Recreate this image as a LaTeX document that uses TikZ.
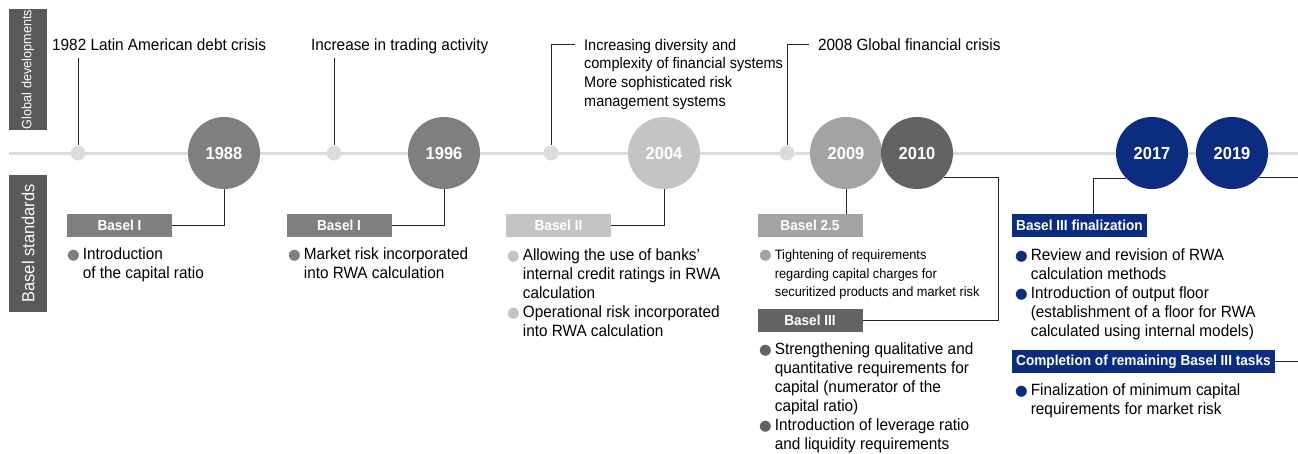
\documentclass[tikz,border=0pt]{standalone}
\usepackage{fontspec}
\setmainfont{Liberation Sans}[FakeStretch=0.94]
\newfontfamily\symfont{DejaVu Sans}

\definecolor{gA}{HTML}{7F7F7F}       % Basel I
\definecolor{gB}{HTML}{C4C4C4}       % Basel II
\definecolor{gC}{HTML}{A3A3A3}       % Basel 2.5
\definecolor{gD}{HTML}{636363}       % Basel III
\definecolor{navy}{HTML}{0C2C80}     % finalization
\definecolor{sidegray}{HTML}{595959}
\definecolor{linegray}{HTML}{DCDCDC}

\newcommand\bul[1]{\textcolor{#1}{\symfont\fontsize{14.5}{14.5}\selectfont ●}}

\tikzset{
  yearball/.style={circle, minimum size=72pt, inner sep=0pt, text=white,
    font=\fontsize{17.5}{17.5}\selectfont\bfseries},
  evdot/.style={circle, fill=linegray, minimum size=15pt, inner sep=0pt},
  stdbox/.style={fill=#1, text=white, minimum width=105pt, minimum height=23pt,
    inner sep=0pt, font=\fontsize{14.5}{14.5}\selectfont\bfseries},
  finbox/.style={fill=navy, text=white, minimum height=23pt, inner xsep=4pt,
    inner ysep=0pt, anchor=west, font=\fontsize{14.5}{14.5}\selectfont\bfseries},
  sidebox/.style={fill=sidegray, text=white, rotate=90, inner sep=0pt},
  evtext/.style={anchor=base west, inner sep=0pt, font=\fontsize{16.3}{19}\selectfont},
  conn/.style={draw=black!85, line width=0.9pt}
}

\begin{document}
\begin{tikzpicture}[x=1pt, y=-1pt]
  \useasboundingbox (0,0) rectangle (1298,453);
  \coordinate (rim) at (1298,0);

  % side captions
  \node[sidebox, minimum width=121pt, minimum height=38pt,
    font=\fontsize{13.5}{13.5}\selectfont] (sideG) at (28,69.5) {Global developments};
  \node[sidebox, minimum width=137pt, minimum height=38pt,
    font=\fontsize{17.5}{17.5}\selectfont] (sideB) at (28,243.5) {Basel standards};

  % time line
  \draw[linegray, line width=3pt] (9,153) -- (1298,153);

  % events on the line
  \foreach \n/\x in {1/78, 2/334, 3/551, 4/787}
    \node[evdot] (ev\n) at (\x,153) {};

  % years
  \foreach \yr/\x/\col in {1988/224/gA, 1996/444/gA, 2004/664/gB, 2009/846/gC,
                           2010/917/gD, 2017/1152/navy, 2019/1232/navy}
    \node[yearball, fill=\col] (y\yr) at (\x,153) {\yr};

  % global developments
  \node[evtext] (g1) at (52,50)
    {\begin{tabular}[t]{@{}l@{}}1982 Latin American debt crisis\end{tabular}};
  \node[evtext] (g2) at (311,50)
    {\begin{tabular}[t]{@{}l@{}}Increase in trading activity\end{tabular}};
  \node[evtext, font=\fontsize{15.4}{18.8}\selectfont] (g3) at (584,50)
    {\begin{tabular}[t]{@{}l@{}}Increasing diversity and\\
      complexity of financial systems\\ More sophisticated risk\\
      management systems\end{tabular}};
  \node[evtext] (g4) at (818,50)
    {\begin{tabular}[t]{@{}l@{}}2008 Global financial crisis\end{tabular}};

  \draw[conn, shorten >=2pt] (ev1.north) -- (ev1.north |- g1.south);
  \draw[conn, shorten >=2pt] (ev2.north) -- (ev2.north |- g2.south);
  \draw[conn] (ev3.north) |- ([xshift=-9pt, yshift=5.5pt]g3.base west);
  \draw[conn] (ev4.north) |- ([xshift=-9pt, yshift=5.5pt]g4.base west);

  % Basel standards
  \node[stdbox=gA] (b1988) at (119.5,225.5) {Basel I};
  \node[stdbox=gA] (b1996) at (339,225.5) {Basel I};
  \node[stdbox=gB] (b2004) at (558.5,225.5) {Basel II};
  \node[stdbox=gC] (b2009) at (810,225.5) {Basel 2.5};
  \node[stdbox=gD] (b2010) at (810,320.5) {Basel III};
  \node[finbox] (b2017) at (1012,225.5) {Basel III finalization};
  \node[finbox] (b2019) at (1012,361.5) {Completion of remaining Basel III tasks};

  \draw[conn] (y1988.south) |- (b1988.east);
  \draw[conn] (y1996.south) |- (b1996.east);
  \draw[conn] (y2004.south) |- (b2004.east);
  \draw[conn] (y2009.south) -- (y2009.south |- b2009.north);
  \draw[conn] (y2010.-42) -| ([xshift=136pt]b2010.east) -- (b2010.east);
  \draw[conn] (y2017.224) -| ([xshift=14pt]b2017.north);
  \draw[conn] (y2019.-42) -- (y2019.-42 -| rim);
  \draw[conn] (b2019.east) -- (b2019.east -| rim);

  % items
  \node[evtext] (i1988) at (67,259)
    {\begin{tabular}[t]{@{}c@{\hspace{3pt}}l@{}}
      \bul{gA} & Introduction\\ & of the capital ratio\end{tabular}};
  \node[evtext] (i1996) at (288,259)
    {\begin{tabular}[t]{@{}c@{\hspace{3pt}}l@{}}
      \bul{gA} & Market risk incorporated\\ & into RWA calculation\end{tabular}};
  \node[evtext] (i2004) at (507,260)
    {\begin{tabular}[t]{@{}c@{\hspace{3pt}}l@{}}
      \bul{gB} & Allowing the use of banks’\\ & internal credit ratings in RWA\\
      & calculation\\
      \bul{gB} & Operational risk incorporated\\ & into RWA calculation\end{tabular}};
  \node[evtext, font=\fontsize{13.6}{18.5}\selectfont] (i2009) at (759,259.5)
    {\begin{tabular}[t]{@{}c@{\hspace{3pt}}l@{}}
      \bul{gC} & Tightening of requirements\\ & regarding capital charges for\\
      & securitized products and market risk\end{tabular}};
  \node[evtext] (i2010) at (759,354)
    {\begin{tabular}[t]{@{}c@{\hspace{3pt}}l@{}}
      \bul{gD} & Strengthening qualitative and\\ & quantitative requirements for\\
      & capital (numerator of the\\ & capital ratio)\\
      \bul{gD} & Introduction of leverage ratio\\ & and liquidity requirements\end{tabular}};
  \node[evtext] (i2017) at (1015,260)
    {\begin{tabular}[t]{@{}c@{\hspace{3pt}}l@{}}
      \bul{navy} & Review and revision of RWA\\ & calculation methods\\
      \bul{navy} & Introduction of output floor\\
      & (establishment of a floor for RWA\\
      & calculated using internal models)\end{tabular}};
  \node[evtext] (i2019) at (1015,395)
    {\begin{tabular}[t]{@{}c@{\hspace{3pt}}l@{}}
      \bul{navy} & Finalization of minimum capital\\
      & requirements for market risk\end{tabular}};
\end{tikzpicture}
\end{document}
